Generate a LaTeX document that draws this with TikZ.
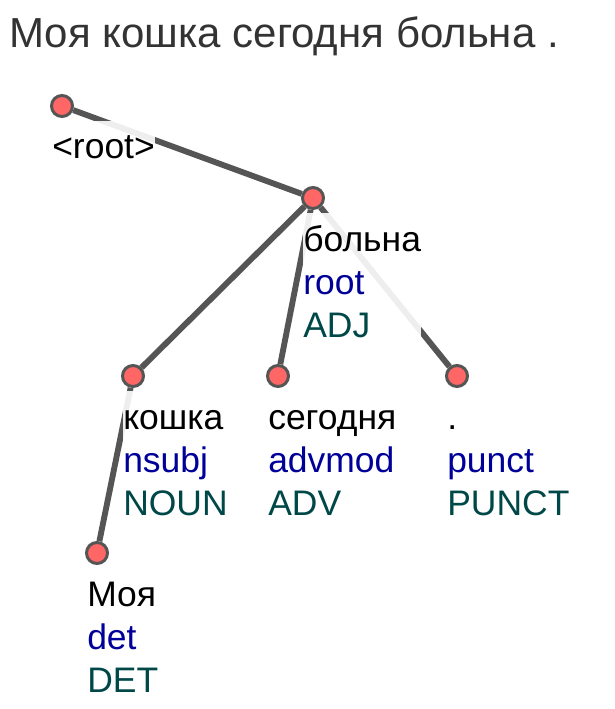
\documentclass[tikz,border=0pt]{standalone}
\usepackage{fontspec}
\setmainfont{Liberation Sans}
\definecolor{edgegray}{RGB}{85,85,85}
\definecolor{tokred}{RGB}{255,102,102}
\definecolor{relblue}{RGB}{0,0,153}
\definecolor{posteal}{RGB}{0,72,72}
\definecolor{titlegray}{RGB}{51,51,51}
\tikzset{
	tok/.style={circle,draw=edgegray,fill=tokred,line width=2.25pt,minimum size=15.75pt,inner sep=0pt},
	dep/.style={draw=edgegray,line width=4.4pt},
	lbl/.style={anchor=base west,align=left,inner sep=0pt,fill=white,fill opacity=0.9,text opacity=1,font=\fontsize{26.6}{32.25}\selectfont},
}
\newcommand{\tokrows}[3]{\rule{0pt}{28.5pt}#1\\\textcolor{relblue}{#2}\\\textcolor{posteal}{#3}}
\begin{document}
\begin{tikzpicture}[x=0.75pt,y=0.75pt,yscale=-1,xscale=1]
	\useasboundingbox (0,0) rectangle (614,709);

	% Title
	\draw (9,48) node [anchor=base west,inner sep=0pt,text=titlegray,font=\fontsize{31.5}{38}\selectfont] (title) {Моя кошка сегодня больна .};

	% Tokens
	\node [tok] (root) at (62,106) {};
	\node [tok] (bolna) at (313,198) {};
	\node [tok] (koshka) at (133,376) {};
	\node [tok] (segodnya) at (278,376) {};
	\node [tok] (dot) at (457,376) {};
	\node [tok] (moya) at (97,553) {};

	% Dependencies
	\draw [dep] (root) -- (bolna);
	\draw [dep] (bolna) -- (koshka);
	\draw [dep] (bolna) -- (segodnya);
	\draw [dep] (bolna) -- (dot);
	\draw [dep] (koshka) -- (moya);

	% Text Node (base is the last row)
	\draw (52,159) node [lbl] (lroot) {\rule{0pt}{28.5pt}<root>};
	% Text Node
	\draw (303,337) node [lbl] (lbolna) {\tokrows{больна}{root}{ADJ}};
	% Text Node
	\draw (123,515) node [lbl] (lkoshka) {\tokrows{кошка}{nsubj}{NOUN}};
	% Text Node
	\draw (268,515) node [lbl] (lsegodnya) {\tokrows{сегодня}{advmod}{ADV}};
	% Text Node
	\draw (447,515) node [lbl] (ldot) {\tokrows{.}{punct}{PUNCT}};
	% Text Node
	\draw (87,692) node [lbl] (lmoya) {\tokrows{Моя}{det}{DET}};

\end{tikzpicture}
\end{document}
